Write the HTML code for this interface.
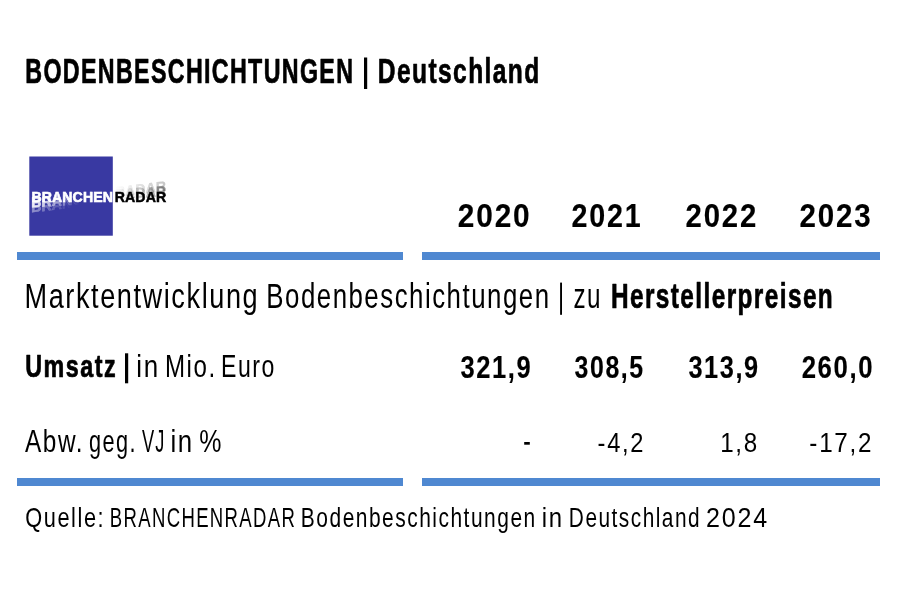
<!DOCTYPE html>
<html><head><meta charset="utf-8">
<style>
html,body{margin:0;padding:0;background:#fff;}
body{width:900px;height:600px;overflow:hidden;}
svg{display:block;will-change:transform;}
text{font-family:"Liberation Sans",sans-serif;}
</style></head>
<body>
<svg width="900" height="600" viewBox="0 0 900 600">
<rect width="900" height="600" fill="#fff"/>
<!-- pipes -->
<rect x="364" y="57.5" width="3.2" height="31.5" fill="#000"/>
<rect x="560.1" y="282.6" width="1.9" height="32.2" fill="#000"/>
<rect x="125" y="353.3" width="3.2" height="30" fill="#000"/>
<rect x="524.2" y="442" width="5.6" height="2.7" fill="#000"/>
<!-- bars -->
<g fill="#4f88d1">
<rect x="17" y="252" width="386" height="8"/>
<rect x="422" y="252" width="458" height="8"/>
<rect x="17" y="478" width="386" height="8"/>
<rect x="422" y="478" width="458" height="8"/>
</g>
<!-- logo -->
<defs>
<linearGradient id="gL" gradientUnits="userSpaceOnUse" x1="0" y1="0" x2="48" y2="0">
<stop offset="0" stop-color="#fff" stop-opacity="1"/><stop offset="1" stop-color="#fff" stop-opacity="0"/></linearGradient>
<linearGradient id="gL2" gradientUnits="userSpaceOnUse" x1="0" y1="0" x2="40" y2="0">
<stop offset="0" stop-color="#fff" stop-opacity="1"/><stop offset="1" stop-color="#fff" stop-opacity="0"/></linearGradient>
<linearGradient id="gR" gradientUnits="userSpaceOnUse" x1="0" y1="0" x2="50" y2="0">
<stop offset="0" stop-color="#000" stop-opacity="0"/><stop offset="1" stop-color="#000" stop-opacity="1"/></linearGradient>
</defs>
<rect x="29.3" y="156.5" width="83.5" height="79.2" fill="#3939a2"/>
<g font-size="14.1" font-weight="bold" letter-spacing="0.1">
<text transform="translate(31.3 212.3) skewY(-6.5)" fill="url(#gL2)" stroke="url(#gL2)" stroke-width="0.5" opacity="0.45">BRANCHEN</text>
<text transform="translate(31.3 207.3) skewY(-3.4)" fill="url(#gL)" stroke="url(#gL)" stroke-width="0.5" opacity="0.85">BRANCHEN</text>
<text transform="translate(31.5 202.3)" fill="#fff" stroke="#fff" stroke-width="0.6">BRANCHEN</text>
<text transform="translate(114.8 196.8) skewY(-6.5)" fill="url(#gR)" stroke="url(#gR)" stroke-width="0.4" opacity="0.22">RADAR</text>
<text transform="translate(114.8 199.0) skewY(-3.4)" fill="url(#gR)" stroke="url(#gR)" stroke-width="0.4" opacity="0.4">RADAR</text>
<text transform="translate(114.8 202.0)" fill="#000" stroke="#000" stroke-width="0.5">RADAR</text>
</g>
<g fill="#000">
<text transform="translate(25.25 83.00) scale(0.6759 1)" font-size="34.4" font-weight="bold" stroke="#000" stroke-width="0.7" stroke-linejoin="round" letter-spacing="2.0">BODENBESCHICHTUNGEN</text>
<text transform="translate(377.87 83.00) scale(0.7128 1)" font-size="34.4" font-weight="bold" stroke="#000" stroke-width="0.7" stroke-linejoin="round" letter-spacing="2.0">Deutschland</text>
<text transform="translate(457.87 226.60) scale(0.9175 1)" font-size="32.5" font-weight="bold" stroke="#000" stroke-width="0.15" stroke-linejoin="round" letter-spacing="2.0">2020</text>
<text transform="translate(571.60 226.60) scale(0.8826 1)" font-size="32.5" font-weight="bold" stroke="#000" stroke-width="0.15" stroke-linejoin="round" letter-spacing="2.0">2021</text>
<text transform="translate(685.58 226.60) scale(0.9023 1)" font-size="32.5" font-weight="bold" stroke="#000" stroke-width="0.15" stroke-linejoin="round" letter-spacing="2.0">2022</text>
<text transform="translate(799.58 226.60) scale(0.9088 1)" font-size="32.5" font-weight="bold" stroke="#000" stroke-width="0.15" stroke-linejoin="round" letter-spacing="2.0">2023</text>
<text transform="translate(24.48 308.40) scale(0.7907 1)" font-size="34.3" letter-spacing="2.0">Marktentwicklung</text>
<text transform="translate(266.28 308.40) scale(0.7531 1)" font-size="34.3" letter-spacing="2.0">Bodenbeschichtungen</text>
<text transform="translate(573.44 308.40) scale(0.7068 1)" font-size="34.3" letter-spacing="2.0">zu</text>
<text transform="translate(610.88 308.40) scale(0.7106 1)" font-size="34.3" font-weight="bold" stroke="#000" stroke-width="0.7" stroke-linejoin="round" letter-spacing="2.0">Herstellerpreisen</text>
<text transform="translate(25.21 377.30) scale(0.7640 1)" font-size="30.5" font-weight="bold" stroke="#000" stroke-width="0.7" stroke-linejoin="round" letter-spacing="2.0">Umsatz</text>
<text transform="translate(136.18 377.30) scale(0.8499 1)" font-size="30.5" letter-spacing="2.0">in</text>
<text transform="translate(164.92 377.30) scale(0.7900 1)" font-size="30.5" letter-spacing="2.0">Mio.</text>
<text transform="translate(221.00 377.30) scale(0.7574 1)" font-size="30.5" letter-spacing="2.0">Euro</text>
<text transform="translate(460.40 377.80) scale(0.7974 1)" font-size="32.0" font-weight="bold" stroke="#000" stroke-width="0.15" stroke-linejoin="round" letter-spacing="2.0">321,9</text>
<text transform="translate(574.61 377.80) scale(0.7778 1)" font-size="32.0" font-weight="bold" stroke="#000" stroke-width="0.15" stroke-linejoin="round" letter-spacing="2.0">308,5</text>
<text transform="translate(688.40 377.80) scale(0.7916 1)" font-size="32.0" font-weight="bold" stroke="#000" stroke-width="0.15" stroke-linejoin="round" letter-spacing="2.0">313,9</text>
<text transform="translate(801.70 377.80) scale(0.8044 1)" font-size="32.0" font-weight="bold" stroke="#000" stroke-width="0.15" stroke-linejoin="round" letter-spacing="2.0">260,0</text>
<text transform="translate(25.00 452.00) scale(0.7740 1)" font-size="31.5" letter-spacing="2.0">Abw.</text>
<text transform="translate(89.02 452.00) scale(0.6900 1)" font-size="31.5" letter-spacing="2.0">geg.</text>
<text transform="translate(142.00 452.00) scale(0.5789 1)" font-size="31.5" letter-spacing="2.0">VJ</text>
<text transform="translate(170.38 452.00) scale(0.8209 1)" font-size="31.5" letter-spacing="2.0">in</text>
<text transform="translate(199.22 452.00) scale(0.7935 1)" font-size="31.5" letter-spacing="2.0">%</text>
<text transform="translate(597.56 452.10) scale(0.8461 1)" font-size="28.0" letter-spacing="2.0">-4,2</text>
<text transform="translate(720.19 452.10) scale(0.8642 1)" font-size="28.0" letter-spacing="2.0">1,8</text>
<text transform="translate(809.34 452.10) scale(0.8666 1)" font-size="28.0" letter-spacing="2.0">-17,2</text>
<text transform="translate(25.28 526.80) scale(0.7808 1)" font-size="27.9" letter-spacing="2.0">Quelle:</text>
<text transform="translate(109.85 526.80) scale(0.6649 1)" font-size="27.9" letter-spacing="2.0">BRANCHENRADAR</text>
<text transform="translate(300.86 526.80) scale(0.7513 1)" font-size="27.9" letter-spacing="2.0">Bodenbeschichtungen</text>
<text transform="translate(541.80 526.80) scale(0.8576 1)" font-size="27.9" letter-spacing="2.0">in</text>
<text transform="translate(568.87 526.80) scale(0.7470 1)" font-size="27.9" letter-spacing="2.0">Deutschland</text>
<text transform="translate(706.12 526.80) scale(0.8991 1)" font-size="27.9" letter-spacing="2.0">2024</text>
</g>
</svg>
</body></html>
